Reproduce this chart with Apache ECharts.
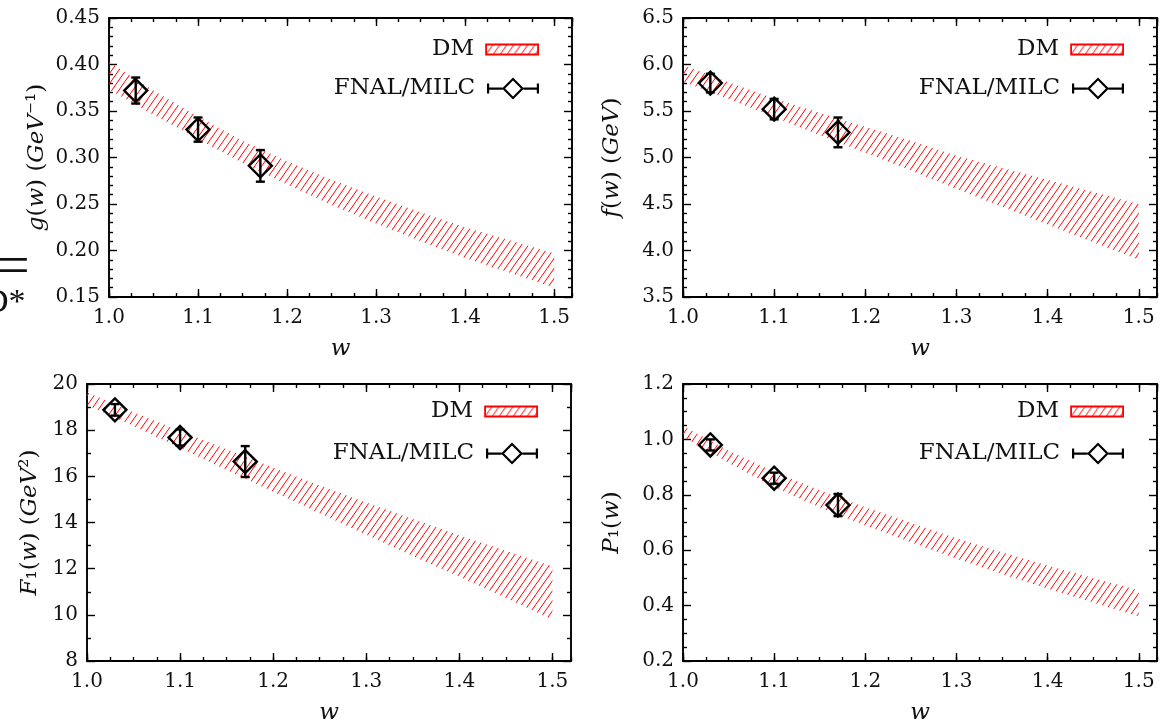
<!DOCTYPE html>
<html><head><meta charset="utf-8">
<script src="https://cdn.jsdelivr.net/npm/echarts@6/dist/echarts.min.js"></script>
<style>html,body{margin:0;padding:0;background:#fff}#c{width:1166px;height:726px}</style>
</head><body><div id="c"></div>
<script>
// ---------------- data ----------------
const wBand = [1.00, 1.05, 1.10, 1.15, 1.20, 1.25, 1.30, 1.35, 1.40, 1.45, 1.50];
const latW  = [1.03, 1.10, 1.17];

const gLo = [0.373, 0.346, 0.320, 0.294, 0.271, 0.249, 0.229, 0.210, 0.192, 0.176, 0.160];
const gHi = [0.403, 0.372, 0.344, 0.318, 0.296, 0.276, 0.258, 0.241, 0.225, 0.211, 0.197];
const gVal = [0.372, 0.330, 0.291];
const gErr = [0.014, 0.013, 0.017];

const fLo = [5.815, 5.63, 5.435, 5.24, 5.05, 4.86, 4.66, 4.47, 4.28, 4.09, 3.90];
const fHi = [5.995, 5.81, 5.635, 5.48, 5.33, 5.18, 5.02, 4.89, 4.76, 4.63, 4.50];
const fVal = [5.80, 5.52, 5.27];
const fErr = [0.10, 0.11, 0.16];

const F1Lo = [19.09, 18.18, 17.23, 16.27, 15.33, 14.40, 13.47, 12.55, 11.65, 10.73, 9.80];
const F1Hi = [19.64, 18.78, 17.98, 17.17, 16.38, 15.60, 14.87, 14.15, 13.45, 12.78, 12.10];
const F1Val = [18.88, 17.68, 16.64];
const F1Err = [0.25, 0.35, 0.67];

const P1Lo = [1.010, 0.915, 0.828, 0.754, 0.689, 0.629, 0.569, 0.514, 0.461, 0.411, 0.361];
const P1Hi = [1.048, 0.960, 0.883, 0.816, 0.755, 0.699, 0.643, 0.593, 0.545, 0.500, 0.455];
const P1Val = [0.980, 0.860, 0.763];
const P1Err = [0.02, 0.02, 0.04];

const xTicks = [1.0, 1.1, 1.2, 1.3, 1.4, 1.5];
const legendNames = ['DM', 'FNAL/MILC'];

// ---------------- style ----------------
const FONT = 'DejaVu Serif';
const hatchCanvas = document.createElement('canvas');
hatchCanvas.width = 7; hatchCanvas.height = 10;
(function () {
  const c = hatchCanvas.getContext('2d');
  c.strokeStyle = '#ff0000'; c.lineWidth = 1.0;
  c.beginPath();
  c.moveTo(-7, 10); c.lineTo(0, 0);
  c.moveTo(0, 10); c.lineTo(7, 0);
  c.moveTo(7, 10); c.lineTo(14, 0);
  c.stroke();
})();
const hatch = { image: hatchCanvas, repeat: 'repeat' };

const panels = [
  { grid: { left: 109, top: 18, width: 463, height: 279 }, yMin: 0.15, yMax: 0.45, yInt: 0.05, ySplit: 5, dec: 2,
    lo: gLo, hi: gHi, val: gVal, err: gErr, name: '{i|g}({i|w}) ({i|GeV}⁻¹)', nameGap: 60, legRight: 627, legTop: [38, 77] },
  { grid: { left: 683, top: 18, width: 474, height: 279 }, yMin: 3.5, yMax: 6.5, yInt: 0.5, ySplit: 5, dec: 1,
    lo: fLo, hi: fHi, val: fVal, err: fErr, name: '{i|f}({i|w}) ({i|GeV})', nameGap: 59, legRight: 42, legTop: [38, 77] },
  { grid: { left: 87, top: 384, width: 484, height: 277 }, yMin: 8, yMax: 20, yInt: 2, ySplit: 2, dec: 0,
    lo: F1Lo, hi: F1Hi, val: F1Val, err: F1Err, name: '{i|F}₁({i|w}) ({i|GeV}²)', nameGap: 45, legRight: 628, legTop: [400, 442] },
  { grid: { left: 683, top: 384, width: 474, height: 277 }, yMin: 0.2, yMax: 1.2, yInt: 0.2, ySplit: 4, dec: 1,
    lo: P1Lo, hi: P1Hi, val: P1Val, err: P1Err, name: '{i|P}₁({i|w})', nameGap: 59, legRight: 42, legTop: [400, 442] }
];

const lineC = { color: '#000', width: 1.9 };
const tickC = { color: '#000', width: 1.4 };
const labelFont = { fontFamily: FONT, fontSize: 20, color: '#111' };
const nameFont = { fontFamily: FONT, fontSize: 23, color: '#111',
  rich: { i: { fontFamily: FONT, fontStyle: 'italic', fontSize: 23, color: '#111' } } };

const xAxis = [], yAxis = [], grid = [], series = [], legend = [];

panels.forEach((p, gi) => {
  grid.push(p.grid);
  const bx = { type: 'value', gridIndex: gi, min: 1.0, max: 1.52, splitLine: { show: false } };
  xAxis.push(Object.assign({}, bx, {
    position: 'bottom', interval: 0.1,
    axisLine: { show: true, onZero: false, lineStyle: lineC },
    axisTick: { inside: true, length: 8, lineStyle: tickC },
    axisLabel: Object.assign({ margin: 11, showMaxLabel: false,
      formatter: v => (xTicks.some(t => Math.abs(t - v) < 1e-6) ? v.toFixed(1) : '') }, labelFont),
    name: '{i|w}', nameLocation: 'middle', nameGap: 41, nameTextStyle: nameFont
  }));
  xAxis.push(Object.assign({}, bx, {
    position: 'bottom', interval: 0.025,
    axisLine: { show: false, onZero: false }, axisTick: { inside: true, length: 4, lineStyle: tickC },
    axisLabel: { show: false }
  }));
  xAxis.push(Object.assign({}, bx, {
    position: 'top', interval: 0.1,
    axisLine: { show: true, onZero: false, lineStyle: lineC },
    axisTick: { inside: true, length: 8, lineStyle: tickC }, axisLabel: { show: false }
  }));
  xAxis.push(Object.assign({}, bx, {
    position: 'top', interval: 0.025,
    axisLine: { show: false, onZero: false }, axisTick: { inside: true, length: 4, lineStyle: tickC },
    axisLabel: { show: false }
  }));
  const by = { type: 'value', gridIndex: gi, min: p.yMin, max: p.yMax, interval: p.yInt, splitLine: { show: false },
    axisLine: { show: true, onZero: false, lineStyle: lineC },
    axisTick: { inside: true, length: 8, lineStyle: tickC },
    minorTick: { show: true, splitNumber: p.ySplit, length: 4, lineStyle: tickC } };
  yAxis.push(Object.assign({}, by, {
    position: 'left',
    axisLabel: Object.assign({ margin: 9, formatter: v => v.toFixed(p.dec) }, labelFont),
    name: p.name, nameLocation: 'middle', nameGap: p.nameGap, nameTextStyle: nameFont
  }));
  yAxis.push(Object.assign({}, by, { position: 'right', axisLabel: { show: false } }));

  const lo = p.lo, hi = p.hi;
  series.push({
    type: 'custom', name: legendNames[0], xAxisIndex: gi * 4, yAxisIndex: gi * 2, silent: true, z: 1,
    data: [[wBand[0], lo[0]]], encode: { x: 0, y: 1 },
    itemStyle: { color: hatch, borderColor: '#ff0000' },
    renderItem: function (params, api) {
      const pts = [];
      for (let i = 0; i < wBand.length; i++) pts.push(api.coord([wBand[i], hi[i]]));
      for (let i = wBand.length - 1; i >= 0; i--) pts.push(api.coord([wBand[i], lo[i]]));
      return { type: 'polygon', shape: { points: pts }, style: { fill: hatch, stroke: null } };
    }
  });
  series.push({
    type: 'custom', name: legendNames[1], xAxisIndex: gi * 4, yAxisIndex: gi * 2, silent: true, z: 3,
    data: latW.map((w, i) => [w, p.val[i], p.err[i]]), encode: { x: 0, y: 1 },
    itemStyle: { color: '#000' },
    renderItem: function (params, api) {
      const x = api.value(0), y = api.value(1), e = api.value(2);
      const c = api.coord([x, y]), t = api.coord([x, y + e]), b = api.coord([x, y - e]);
      const s = 11.5, cw = 4.5;
      const st = { stroke: '#000', lineWidth: 2.4, fill: null };
      return { type: 'group', children: [
        { type: 'line', shape: { x1: c[0], y1: t[1], x2: c[0], y2: b[1] }, style: st },
        { type: 'line', shape: { x1: c[0] - cw, y1: t[1], x2: c[0] + cw, y2: t[1] }, style: st },
        { type: 'line', shape: { x1: c[0] - cw, y1: b[1], x2: c[0] + cw, y2: b[1] }, style: st },
        { type: 'polygon', shape: { points: [[c[0], c[1] - s], [c[0] + s, c[1]], [c[0], c[1] + s], [c[0] - s, c[1]]] }, style: st }
      ] };
    }
  });
  const legText = { fontFamily: FONT, fontSize: 23, color: '#111', padding: [0, 7, 0, 0] };
  legend.push({
    right: p.legRight, top: p.legTop[0], orient: 'vertical', align: 'right', padding: 0,
    itemWidth: 52, itemHeight: 10, selectedMode: false, textStyle: legText,
    data: [{ name: legendNames[0], icon: 'rect', itemStyle: { color: hatch, borderColor: '#ff0000', borderWidth: 1.8 } }]
  });
  legend.push({
    right: p.legRight, top: p.legTop[1], orient: 'vertical', align: 'right', padding: 0,
    itemWidth: 52, itemHeight: 22, selectedMode: false, textStyle: legText,
    data: [{ name: legendNames[1],
      icon: 'path://M0,10h15.5v2.2h-15.5zM36.5,10h15.5v2.2h-15.5zM0,6h2.2v10h-2.2zM49.8,6h2.2v10h-2.2zM26,0L37,11L26,22L15,11ZM26,3.1L18.1,11L26,18.9L33.9,11Z',
      itemStyle: { color: '#000', borderWidth: 0 } }]
  });
});

const chart = echarts.init(document.getElementById('c'), null, { renderer: 'canvas' });
chart.setOption({
  animation: false,
  backgroundColor: '#fff',
  grid, xAxis, yAxis, series, legend,
  graphic: [
    { type: 'text', left: -3, top: 240, style: { text: '=', fontFamily: 'Liberation Serif', fontSize: 58, fill: '#111' } },
    { type: 'text', left: -16, top: 286, style: { text: 'D*', fontFamily: 'Liberation Serif', fontSize: 34, fill: '#111' } }
  ]
});
</script>
</body></html>
